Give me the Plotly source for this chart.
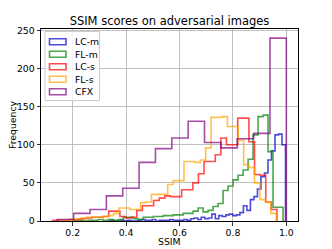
import numpy as np
import plotly.graph_objects as go

# ---- data ----
series_names = ["LC-m", "FL-m", "LC-s", "FL-s", "CFX"]

lcm_range = (0.34, 0.997)
lcm_counts = [1, 0, 0, 1, 0, 1, 0, 0, 1,
              2, 1, 1, 2, 0, 1, 1,
              1, 2, 1, 1, 1, 2, 1, 3,
              4, 2, 5, 3, 4, 9, 3, 7, 6, 8, 9,
              7, 8, 11, 20, 14, 28, 32, 42, 58, 63, 80, 92, 113, 114, 100]

flm_range = (0.2023, 0.9877)
flm_counts = [1, 1, 0, 1, 1, 2, 1, 2, 1, 2, 5, 5, 3, 2, 5, 5, 6, 6, 7, 7, 8, 8,
              10, 10, 13, 17, 12, 14, 19, 23, 40, 46, 54, 60, 67, 81, 113, 137,
              139, 91, 18, 18]

lcs_range = (0.125, 0.965)
lcs_counts = [1, 1, 1, 2, 2, 3, 4, 5, 5, 6, 13, 13, 6, 4, 5, 14, 20, 20, 27, 30,
              33, 32, 32, 41, 41, 50, 62, 78, 78, 87, 109, 100, 100, 135, 135,
              104, 61, 60, 25, 15]

fls_range = (0.15, 0.962)
fls_counts = [1, 1, 2, 3, 4, 5, 5, 5, 6, 7, 10, 17, 17, 15, 15, 24, 25, 35, 35,
              35, 48, 53, 53, 78, 78, 77, 80, 96, 136, 136, 137, 124, 124, 106,
              74, 70, 50, 28, 25, 10]

cfx_range = (0.1425, 1.0)
cfx_counts = [2, 10, 15, 33, 43, 77, 95, 109, 131, 103, 96, 108, 115, 240]

colors = ["rgba(0,0,200,0.7)", "rgba(0,128,0,0.7)", "rgba(255,0,0,0.7)",
          "rgba(255,165,0,0.7)", "rgba(128,0,128,0.7)"]

x_ticks = [0.2, 0.4, 0.6, 0.8, 1.0]
y_ticks = [0, 50, 100, 150, 200, 250]

# ---- layout geometry (pixels) ----
W, H = 332, 249
L, R, T, B = 41, 298, 29, 221
FONT = "DejaVu Sans"


def px_x(p):
    return (p - L) / (R - L)


def px_y(p):
    return (B - p) / (B - T)


fig = go.Figure()

all_series = [(lcm_range, lcm_counts), (flm_range, flm_counts),
              (lcs_range, lcs_counts), (fls_range, fls_counts),
              (cfx_range, cfx_counts)]

for name, (rng, counts), col in zip(series_names, all_series, colors):
    edges = np.linspace(rng[0], rng[1], len(counts) + 1)
    xs = [edges[0]] + list(edges)
    ys = [0] + list(counts) + [0]
    fig.add_trace(go.Scatter(x=xs, y=ys, mode="lines", name=name,
                             line=dict(color=col, width=1.6, shape="hv"),
                             showlegend=False, hoverinfo="skip"))

# ---- custom matplotlib-like legend ----
shapes = []
annotations = []
shapes.append(dict(type="rect", xref="paper", yref="paper",
                   x0=px_x(45), x1=px_x(99.5), y0=px_y(100.5), y1=px_y(31.5),
                   line=dict(color="#cccccc", width=1),
                   fillcolor="rgba(255,255,255,0.8)", layer="above"))
rows = [41.7, 54.2, 66.7, 79.2, 91.7]
for name, col, ry in zip(series_names, colors, rows):
    shapes.append(dict(type="rect", xref="paper", yref="paper",
                       x0=px_x(49.5), x1=px_x(66), y0=px_y(ry + 3), y1=px_y(ry - 3),
                       line=dict(color=col, width=1.6), fillcolor="rgba(0,0,0,0)",
                       layer="above"))
    annotations.append(dict(text=name, xref="paper", yref="paper",
                            x=px_x(72.5), y=px_y(ry), xanchor="left", yanchor="middle",
                            showarrow=False, font=dict(family=FONT, size=9.3, color="#000")))

# axis labels
annotations.append(dict(text="SSIM", xref="paper", yref="paper", x=0.5, y=px_y(241.5),
                        xanchor="center", yanchor="middle", showarrow=False,
                        font=dict(family=FONT, size=9.3, color="#000")))
annotations.append(dict(text="Frequency", xref="paper", yref="paper", x=px_x(12),
                        y=px_y(125), xanchor="center", yanchor="middle", textangle=-90,
                        showarrow=False, font=dict(family=FONT, size=9.3, color="#000")))

fig.update_layout(
    width=W, height=H,
    margin=dict(l=L, r=W - R, t=T, b=H - B, pad=0),
    paper_bgcolor="white", plot_bgcolor="white",
    title=dict(text="SSIM scores on adversarial images", x=((L + R) / 2) / W,
               xanchor="center", y=1 - 21 / H, yanchor="middle", yref="container",
               font=dict(family=FONT, size=11.5, color="#000")),
    shapes=shapes, annotations=annotations, showlegend=False,
)
fig.update_xaxes(range=[0.0815, 1.04375], tickvals=x_ticks,
                 ticktext=[f"{v:.1f}" for v in x_ticks],
                 showgrid=True, gridcolor="#b0b0b0", gridwidth=0.8,
                 showline=True, linecolor="#000", linewidth=1, mirror=True,
                 ticks="outside", ticklen=3.5, tickwidth=0.8, tickcolor="#000",
                 zeroline=False, automargin=False, ticklabelstandoff=-1,
                 tickfont=dict(family=FONT, size=9.3, color="#000"))
fig.update_yaxes(range=[0, 252], tickvals=y_ticks,
                 showgrid=True, gridcolor="#b0b0b0", gridwidth=0.8,
                 showline=True, linecolor="#000", linewidth=1, mirror=True,
                 ticks="outside", ticklen=3.5, tickwidth=0.8, tickcolor="#000",
                 zeroline=False, automargin=False,
                 tickfont=dict(family=FONT, size=9.3, color="#000"))

fig.write_html("out.html", config={"displayModeBar": False, "staticPlot": True},
               post_script="document.body.style.margin='0';")
